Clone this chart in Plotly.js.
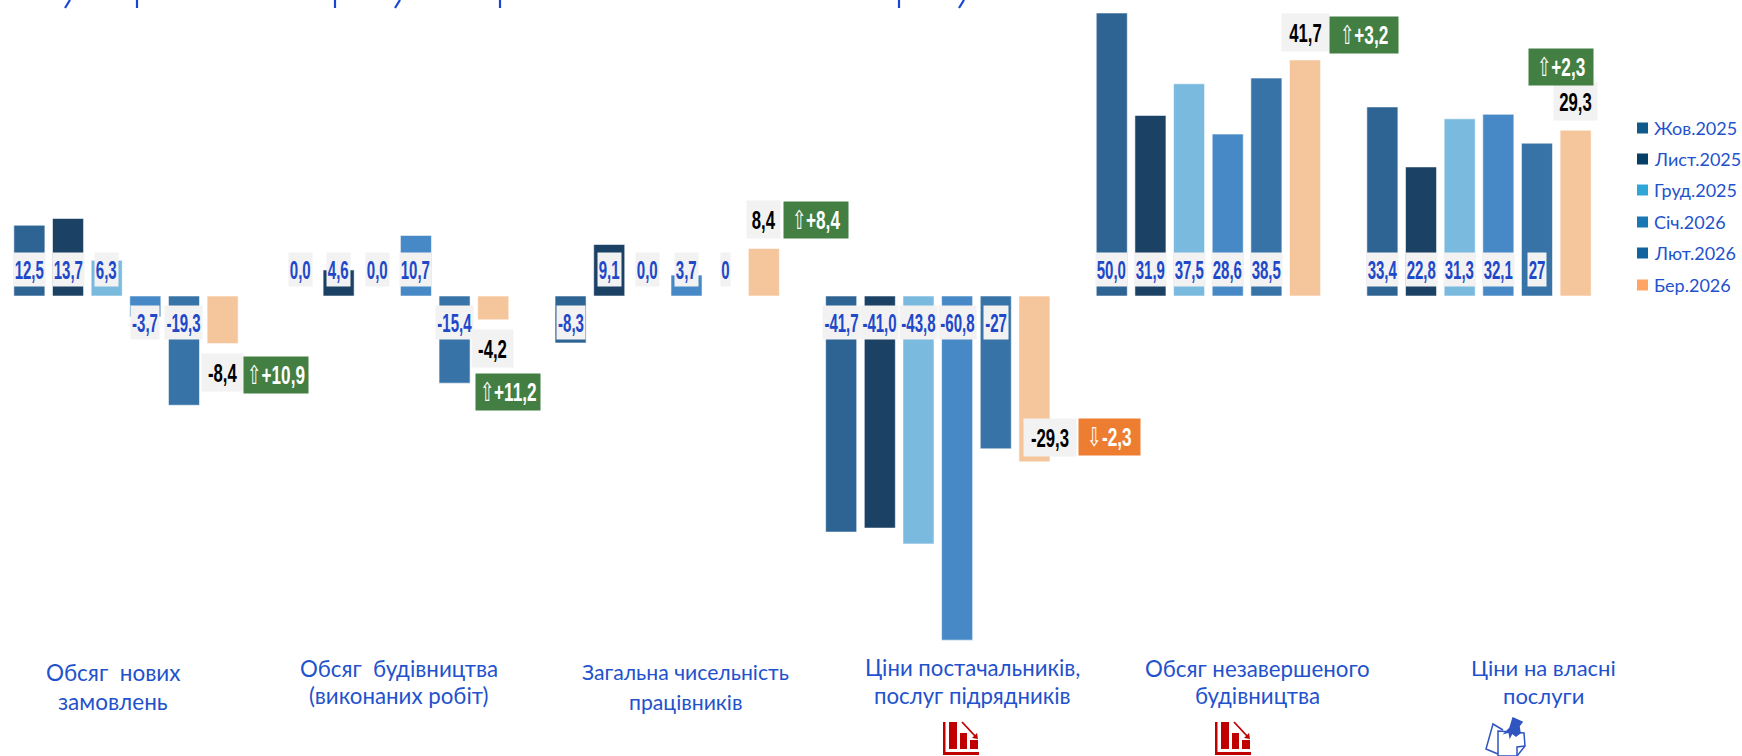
<!DOCTYPE html>
<html><head><meta charset="utf-8">
<script src="https://cdn.plot.ly/plotly-3.0.1.min.js"></script>
<style>html,body{margin:0;padding:0;background:#fff;overflow:hidden}</style></head>
<body><div id="chart" style="width:1742px;height:756px"></div>
<script>
const categories = ["Обсяг нових замовлень","Обсяг будівництва (виконаних робіт)","Загальна чисельність працівників","Ціни постачальників, послуг підрядників","Обсяг незавершеного будівництва","Ціни на власні послуги"];
const seriesNames = ["Жов.2025","Лист.2025","Груд.2025","Січ.2026","Лют.2026","Бер.2026"];
const oct2025 = [12.5,0,-8.3,-41.7,50.0,33.4];
const nov2025 = [13.7,4.6,9.1,-41.0,31.9,22.8];
const dec2025 = [6.3,0,0,-43.8,37.5,31.3];
const jan2026 = [-3.7,10.7,3.7,-60.8,28.6,32.1];
const feb2026 = [-19.3,-15.4,0,-27,38.5,27];
const mar2026 = [-8.4,-4.2,8.4,-29.3,41.7,29.3];
const oct2025Text = ["12,5","0,0","-8,3","-41,7","50,0","33,4"];
const nov2025Text = ["13,7","4,6","9,1","-41,0","31,9","22,8"];
const dec2025Text = ["6,3","0,0","0,0","-43,8","37,5","31,3"];
const jan2026Text = ["-3,7","10,7","3,7","-60,8","28,6","32,1"];
const feb2026Text = ["-19,3","-15,4","0","-27","38,5","27"];
const mar2026Text = ["-8,4","-4,2","8,4","-29,3","41,7","29,3"];
const changeArrow = ["⇧","⇧","⇧","⇩","⇧","⇧"];
const changeText = ["+10,9","+11,2","+8,4","-2,3","+3,2","+2,3"];
const labelLines = [["Обсяг\u00a0\u00a0нових","замовлень"],["Обсяг\u00a0\u00a0будівництва","(виконаних робіт)"],["Загальна чисельність","працівників"],["Ціни постачальників,","послуг підрядників"],["Обсяг незавершеного","будівництва"],["Ціни на власні","послуги"]];

const W=1742,H=756,Y0=296,PXU=5.66,CX0=126,CP=270.6,BP=38.6;
const barColors=["#2e6494","#1b4164","#7bbadf","#4689c6","#3873a7","#f5c59b"];
const legendColors=["#0f5a8a","#063f66","#2ea6d8","#1878b4","#10639c","#ffa463"];
const BLUE="#2148c8", LBL="#1f52cc";
const COND='"Liberation Sans",Arial,sans-serif', HUM='Lato,"Noto Sans",sans-serif';
const allVals=[oct2025,nov2025,dec2025,jan2026,feb2026,mar2026];
const allText=[oct2025Text,nov2025Text,dec2025Text,jan2026Text,feb2026Text,mar2026Text];
const px=x=>x/W, py=y=>1-y/H;

const traces=seriesNames.map((n,s)=>({type:'bar',name:n,x:categories,y:allVals[s],showlegend:false,hoverinfo:'skip',
  marker:{color:barColors[s],line:{color:'rgba(255,255,255,0.55)',width:1}}}));

const ann=[];
const slot=s=>(s-2.5)*BP;
const boxW=t=>t[0]==='-'?({3:24,4:28,5:37})[t.length]:({1:9,2:18,3:22.5,4:30.6})[t.length];
for(let s=0;s<5;s++) categories.forEach((c,i)=>{
  const v=allVals[s][i], t=allText[s][i];
  ann.push({xref:'x',yref:'y',x:i,y:v<0?-4.7:4.7,xshift:slot(s),text:'<b>'+t+'</b>',showarrow:false,
    font:{family:COND,size:25,color:BLUE},bgcolor:'#f2f2f2',width:boxW(t),height:33,borderpad:0,xanchor:'center',yanchor:'middle',name:'blue'});
});
const blackPos=[[222.5,372],[492.8,348.5],[763.5,220],[1050,437.5],[1305,33],[1575.5,101.5]];
const blackW=[41,41,33,52,47,43];
const greenPos=[[276,375],[508,391.5],[816,220],[1109.5,437],[1364,35],[1561,66.5]];
const greenW=[64,64,64,61,68,64];
categories.forEach((c,i)=>{
  ann.push({xref:'paper',yref:'paper',x:px(blackPos[i][0]),y:py(blackPos[i][1]),text:'<b>'+mar2026Text[i]+'</b>',showarrow:false,
    font:{family:COND,size:26.5,color:'#000'},bgcolor:'#f2f2f2',width:blackW[i],height:37,borderpad:0,xanchor:'center',yanchor:'middle',name:'black'});
  ann.push({xref:'paper',yref:'paper',x:px(greenPos[i][0]),y:py(greenPos[i][1]),text:changeArrow[i]+'<b>'+changeText[i]+'</b>',showarrow:false,
    font:{family:COND,size:26,color:'#fff'},bgcolor:i===3?'#ed7d31':'#437e42',width:greenW[i],height:36,borderpad:0,xanchor:'center',yanchor:'middle',name:'green'});
});
const labelCx=[113,399,685,972,1257.5,1543.5];
const labelY=[[672,701],[668,695],[672,702],[667,695],[668,695],[667,695]];
const labelSize=[22.5,22.3,21.2,22.2,22.3,22];
labelLines.forEach((ls,i)=>ls.forEach((l,j)=>ann.push({xref:'paper',yref:'paper',x:px(labelCx[i]),y:py(labelY[i][j]),text:l,showarrow:false,
  font:{family:HUM,size:labelSize[i],color:LBL},xanchor:'center',yanchor:'middle',name:'cat'})));
const shapes=[];
const legY=[128,159,190,222,253,285];
seriesNames.forEach((n,s)=>{
  shapes.push({type:'rect',xref:'paper',yref:'paper',x0:px(1637),x1:px(1648),y0:py(legY[s]-5.5),y1:py(legY[s]+5.5),fillcolor:legendColors[s],line:{width:0}});
  ann.push({xref:'paper',yref:'paper',x:px(1651.5),y:py(legY[s]),text:n,showarrow:false,font:{family:HUM,size:18,color:LBL},xanchor:'left',yanchor:'middle'});
});
[[70,65],[137,137],[335,335],[400,395],[500,500],[899,899],[964,959]].forEach(d=>shapes.push({type:'line',xref:'paper',yref:'paper',x0:px(d[0]),y0:py(0),x1:px(d[1]),y1:py(8),line:{color:'#1a45d0',width:2.2}}));
function P(pts,close){return pts.map((p,i)=>(i?'L':'M')+px(p[0]).toFixed(5)+','+py(p[1]).toFixed(5)).join(' ')+(close?' Z':'');}
function chartIcon(x){
  const red='#c00000';
  const r=(a,b,c,d)=>shapes.push({type:'rect',xref:'paper',yref:'paper',x0:px(x+a),x1:px(x+c),y0:py(b),y1:py(d),fillcolor:red,line:{width:0}});
  r(0,722,2.5,755); r(0,752,36,755); r(6,722,14,749); r(17,733,24,749); r(27,740,35,749);
  shapes.push({type:'line',xref:'paper',yref:'paper',x0:px(x+19),y0:py(722),x1:px(x+33),y1:py(737),line:{color:red,width:1.8}});
  shapes.push({type:'path',xref:'paper',yref:'paper',path:P([[x+35,739],[x+34,733],[x+29,738]],true),fillcolor:red,line:{width:0}});
}
chartIcon(943); chartIcon(1215);
const nb='#2f55c0';
const pathShape=(pts,close,fill)=>shapes.push(Object.assign({type:'path',xref:'paper',yref:'paper',path:P(pts,close),line:{color:nb,width:1.5}},fill?{fillcolor:nb}:{}));
pathShape([[1503,730],[1493,724],[1486,749],[1498,754]]);
pathShape([[1498,731],[1524,733],[1525,746],[1517,756],[1498,756]],true);
pathShape([[1517,756],[1517,747],[1525,746]]);
pathShape([[1513,718],[1522,722],[1519,726],[1520,733],[1516,736],[1512,733],[1510,737],[1509,732],[1505,733],[1510,728]],true,true);

const layout={width:W,height:H,margin:{l:0,r:0,t:0,b:0,pad:0},paper_bgcolor:'#fff',plot_bgcolor:'#fff',showlegend:false,
  barmode:'group',bargap:0.143,bargroupgap:0.197,
  xaxis:{type:'category',categoryorder:'array',categoryarray:categories,range:[(0-CX0)/CP,(W-CX0)/CP],showticklabels:false,ticks:'',showgrid:false,zeroline:false,showline:false,fixedrange:true},
  yaxis:{range:[-(H-Y0)/PXU,Y0/PXU],showticklabels:false,ticks:'',showgrid:false,zeroline:false,showline:false,fixedrange:true},
  annotations:ann,shapes:shapes};
const squeezeBy={blue:0.60,black:0.63,green:0.66};
function squeeze(){
  document.querySelectorAll('#chart .annotation').forEach(g=>{
    const a=ann[+g.getAttribute('data-index')]; if(!a||!squeezeBy[a.name]) return;
    const t=g.querySelector('text.annotation-text'); if(!t) return;
    t.setAttribute('textLength',(t.getComputedTextLength()*squeezeBy[a.name]).toFixed(1));
    t.setAttribute('lengthAdjust','spacingAndGlyphs');
  });
}
Plotly.newPlot('chart',traces,layout,{displayModeBar:false,staticPlot:true}).then(squeeze);
</script></body></html>
